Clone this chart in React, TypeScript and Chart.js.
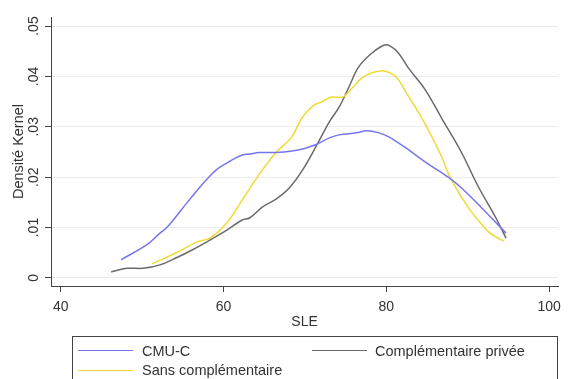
import React, { useEffect, useRef } from "react";
import { Chart, registerables } from "chart.js";

Chart.register(...registerables);

const xTicks = [40, 60, 80, 100];
const yTicks = [0, 0.01, 0.02, 0.03, 0.04, 0.05];

const seriesNames = ["CMU-C", "Sans complémentaire", "Complémentaire privée"];

const cmuX = [47.4, 50.6, 52.2, 53.1, 55.8, 57.4, 58.3, 59.3, 60.4, 61.1, 62.3, 63.2, 64.4, 65.2, 66.5, 68.4, 69.7, 70.5, 71.4, 73.0, 74.2, 76.3, 77.6, 79.1, 80.3, 82.4, 84.8, 87.6, 89.2, 91.6, 94.7];
const cmuY = [0.0036, 0.0066, 0.0089, 0.0101, 0.0155, 0.0186, 0.0202, 0.0217, 0.0228, 0.0235, 0.0244, 0.0246, 0.0249, 0.0249, 0.0249, 0.0252, 0.0256, 0.026, 0.0265, 0.0278, 0.0284, 0.0288, 0.0292, 0.0288, 0.028, 0.0258, 0.023, 0.02, 0.0179, 0.0141, 0.0089];

const sansX = [51.2, 54.2, 56.7, 58.3, 60.4, 62.3, 64.4, 66.5, 68.3, 69.7, 71.1, 71.7, 73.3, 74.6, 75.8, 77.0, 78.2, 79.7, 81.2, 82.4, 84.0, 85.6, 86.8, 88.0, 90.1, 92.6, 94.4];
const sansY = [0.0028, 0.005, 0.0071, 0.0079, 0.0109, 0.0155, 0.0206, 0.025, 0.0278, 0.0319, 0.0343, 0.0347, 0.0359, 0.0359, 0.0377, 0.0397, 0.0407, 0.0411, 0.0399, 0.0369, 0.0327, 0.028, 0.024, 0.0194, 0.0139, 0.0091, 0.0073];

const priveeX = [46.2, 48.1, 50.1, 52.2, 54.2, 56.2, 58.3, 60.4, 62.3, 63.2, 64.8, 66.5, 68.1, 69.7, 71.4, 73.0, 74.2, 75.4, 76.6, 78.2, 79.7, 80.5, 81.5, 82.7, 84.8, 86.8, 89.2, 91.3, 93.4, 94.7];
const priveeY = [0.0012, 0.0019, 0.0019, 0.0026, 0.004, 0.0056, 0.0075, 0.0095, 0.0115, 0.0119, 0.0141, 0.0157, 0.0179, 0.0214, 0.0262, 0.031, 0.0339, 0.0379, 0.0419, 0.0446, 0.0462, 0.046, 0.0446, 0.0417, 0.0373, 0.0317, 0.025, 0.0181, 0.0121, 0.0079];

const colors = ["#7676ec", "#f2da36", "#6a6a6a"];
const FONT = "'Liberation Sans', Arial, sans-serif";
const TEXT = "#333333";

const toPts = (xs: number[], ys: number[]) => xs.map((x, i) => ({ x, y: ys[i] }));

export default function App() {
  const ref = useRef<HTMLCanvasElement>(null);
  useEffect(() => {
    const mk = (i: number, xs: number[], ys: number[]) => ({
      label: seriesNames[i],
      data: toPts(xs, ys),
      borderColor: colors[i],
      borderWidth: 1.5,
      pointRadius: 0,
      fill: false,
      tension: 0.35,
    });
    const chart = new Chart(ref.current!, {
      type: "line",
      data: {
        datasets: [
          mk(0, cmuX, cmuY),
          mk(1, sansX, sansY),
          mk(2, priveeX, priveeY),
        ],
      },
      options: {
        responsive: false,
        animation: false,
        layout: { padding: { top: 17, right: 8, bottom: 48, left: 0 } },
        plugins: { legend: { display: false }, tooltip: { enabled: false } },
        scales: {
          x: {
            type: "linear",
            min: 38.81,
            max: 101.1,
            afterBuildTicks: (s: any) => {
              s.ticks = xTicks.map((v) => ({ value: v }));
            },
            afterFit: (s: any) => {
              s.height = 45;
            },
            grid: { drawOnChartArea: false, drawTicks: true, tickLength: 6, tickColor: "#444" },
            border: { color: "#444", width: 1 },
            ticks: { font: { family: FONT, size: 14 }, color: TEXT, padding: 7, maxRotation: 0, autoSkip: false },
            title: { display: true, text: "SLE", font: { family: FONT, size: 14 }, color: TEXT, padding: 0 },
          },
          y: {
            type: "linear",
            min: -0.0016,
            max: 0.0518,
            afterBuildTicks: (s: any) => {
              s.ticks = yTicks.map((v) => ({ value: v }));
            },
            afterFit: (s: any) => {
              s.width = 51;
            },
            grid: { color: "#ececec", lineWidth: 1, drawTicks: true, tickLength: 6, tickColor: "#444" },
            border: { color: "#444", width: 1 },
            ticks: {
              font: { family: FONT, size: 14 },
              color: TEXT,
              minRotation: 90,
              maxRotation: 90,
              crossAlign: "center",
              padding: 1,
              autoSkip: false,
              callback: (v: any) => (v === 0 ? "0" : Number(v).toFixed(2).replace(/^0/, "")),
            },
            title: {
              display: true,
              text: "Densité Kernel",
              font: { family: FONT, size: 14.5 },
              color: TEXT,
              padding: { top: 10, bottom: 0 },
            },
          },
        },
      },
    } as any);
    return () => chart.destroy();
  }, []);

  const legendText: React.CSSProperties = {
    position: "absolute",
    fontFamily: FONT,
    fontSize: 14.5,
    lineHeight: "16px",
    color: TEXT,
    whiteSpace: "nowrap",
  };
  const sample = (left: number, top: number, color: string): React.CSSProperties => ({
    position: "absolute",
    left,
    top,
    width: 55,
    height: 0,
    borderTop: `1.5px solid ${color}`,
  });

  return (
    <div style={{ position: "absolute", left: 0, top: 0, width: 568, height: 379, overflow: "hidden", background: "#fff" }}>
      <canvas ref={ref} width={568} height={379} style={{ position: "absolute", left: 0, top: 0 }} />
      <div
        style={{
          position: "absolute",
          left: 72,
          top: 336,
          width: 486,
          height: 60,
          border: "1px solid #444",
          boxSizing: "border-box",
        }}
      />
      <div style={sample(78, 350, colors[0])} />
      <div style={{ ...legendText, left: 142, top: 343 }}>{seriesNames[0]}</div>
      <div style={sample(312, 350, colors[2])} />
      <div style={{ ...legendText, left: 375, top: 343 }}>{seriesNames[2]}</div>
      <div style={sample(78, 370, colors[1])} />
      <div style={{ ...legendText, left: 142, top: 362 }}>{seriesNames[1]}</div>
    </div>
  );
}
